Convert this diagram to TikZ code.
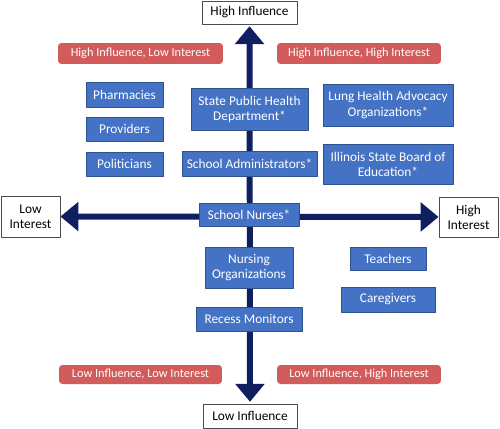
\documentclass[tikz,border=0pt]{standalone}
\usepackage{fontspec}
\setmainfont{Carlito}
\usetikzlibrary{arrows.meta}
\definecolor{boxblue}{HTML}{4472C4}
\definecolor{boxline}{HTML}{2F528F}
\definecolor{quadred}{HTML}{D25B5B}
\definecolor{axisnavy}{HTML}{0F1F5F}
\tikzset{
	stake/.style={draw=boxline, line width=0.5pt, fill=boxblue, text=white, align=center,
		inner sep=1pt, font=\fontsize{7.6}{8.6}\selectfont},
	quad/.style={fill=quadred, text=white, rounded corners=2pt, inner sep=1pt,
		font=\fontsize{7}{8}\selectfont},
	pole/.style={draw=black!70, line width=0.5pt, fill=white, align=center, inner sep=1pt,
		font=\fontsize{7.6}{8.6}\selectfont},
	axis/.style={axisnavy, line width=3.4pt, {Triangle[width=0.57cm,length=0.36cm]}-{Triangle[width=0.57cm,length=0.36cm]}}
}
\begin{document}
\begin{tikzpicture}[x=0.02cm, y=-0.02cm, line join=round]
			\useasboundingbox (0,0) rectangle (500,429);
			% Pole labels
			\node[pole, minimum width=1.9cm, minimum height=0.46cm] (hiInf) at (249.5,12.5) {High Influence};
			\node[pole, minimum width=1.88cm, minimum height=0.48cm] (loInf) at (250,416) {Low Influence};
			\node[pole, minimum width=1.18cm, minimum height=0.82cm] (loInt) at (30.5,216.5) {Low\\Interest};
			\node[pole, minimum width=1.18cm, minimum height=0.8cm] (hiInt) at (468.5,217) {High\\Interest};
			\draw[axis, shorten <=1pt, shorten >=1pt] (loInf) -- (hiInf);
			\draw[axis] (loInt) -- (hiInt);
			% Quadrant labels
			\node[quad, minimum width=3.3cm, minimum height=0.42cm] (qHL) at (140.5,53.5) {High Influence, Low Interest};
			\node[quad, minimum width=3.28cm, minimum height=0.42cm] (qHH) at (359,53.5) {High Influence, High Interest};
			\node[quad, minimum width=3.26cm, minimum height=0.38cm] (qLL) at (140.5,374.5) {Low Influence, Low Interest};
			\node[quad, minimum width=3.28cm, minimum height=0.38cm] (qLH) at (359,374.5) {Low Influence, High Interest};
			% Stakeholders
			\node[stake, minimum width=1.54cm, minimum height=0.5cm] (pharm) at (124.5,94.5) {Pharmacies};
			\node[stake, minimum width=1.54cm, minimum height=0.48cm] (prov) at (124.5,129) {Providers};
			\node[stake, minimum width=1.54cm, minimum height=0.48cm] (polit) at (124.5,164) {Politicians};
			\node[stake, minimum width=2.34cm, minimum height=0.84cm] (stateph) at (249.5,109) {State Public Health\\Department*};
			\node[stake, minimum width=2.7cm, minimum height=0.5cm] (schadm) at (249.5,163.5) {School Administrators*};
			\node[stake, minimum width=2.6cm, minimum height=0.84cm] (lung) at (388,105) {Lung Health Advocacy\\Organizations*};
			\node[stake, minimum width=2.6cm, minimum height=0.8cm] (isbe) at (388,164) {Illinois State Board of\\Education*};
			\node[stake, minimum width=2cm, minimum height=0.46cm] (nurses) at (249,214.5) {School Nurses*};
			\node[stake, minimum width=1.76cm, minimum height=0.82cm] (nursorg) at (249,267.5) {Nursing\\Organizations};
			\node[stake, minimum width=2.12cm, minimum height=0.48cm] (recess) at (249,319) {Recess Monitors};
			\node[stake, minimum width=1.52cm, minimum height=0.46cm] (teach) at (388,258.5) {Teachers};
			\node[stake, minimum width=1.88cm, minimum height=0.5cm] (care) at (388,299.5) {Caregivers};
		\end{tikzpicture}
\end{document}
